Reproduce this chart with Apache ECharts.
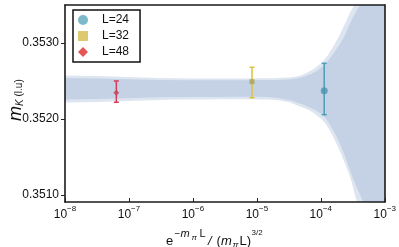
<!DOCTYPE html>
<html><head><meta charset="utf-8">
<script src="https://cdn.jsdelivr.net/npm/echarts@6/dist/echarts.min.js"></script>
<style>html,body{margin:0;padding:0;background:#fff}#c{width:399px;height:247px}</style>
</head><body><div id="c"></div>
<script>
// ---- data ----
const seriesNames = ['L=24', 'L=32', 'L=48'];
const pointX = [1.13e-4, 8.4e-6, 6.35e-8];
const pointY = [0.352373, 0.352492, 0.352347];
const errLow = [0.352058, 0.352281, 0.352221];
const errHigh = [0.352733, 0.352681, 0.352501];

const bandX      = [1e-9, 1e-6, 1.5e-5, 3.1e-5, 4.5e-5, 6.4e-5, 8.5e-5, 1.13e-4, 1.45e-4, 1.86e-4, 2.3e-4, 2.9e-4, 3.6e-4, 4.5e-4, 6e-4, 1e-3, 2e-3];
const innerUpper = [0.35251, 0.35251, 0.352514, 0.35252, 0.35254, 0.35258, 0.35263, 0.35271, 0.35282, 0.35295, 0.35308, 0.35327, 0.35342, 0.35356, 0.3539, 0.3548, 0.3570];
const innerLower = [0.35229, 0.35229, 0.35229, 0.35225, 0.35221, 0.35216, 0.35211, 0.35203, 0.35190, 0.35173, 0.35155, 0.35131, 0.35111, 0.35093, 0.3506, 0.3497, 0.3470];
const outerUpper = [0.352534, 0.352534, 0.352536, 0.352547, 0.352567, 0.35262, 0.352685, 0.352777, 0.352908, 0.353066, 0.353224, 0.353408, 0.35355, 0.3537, 0.3541, 0.3550, 0.3575];
const outerLower = [0.352258, 0.352258, 0.352256, 0.352224, 0.352171, 0.352119, 0.352054, 0.351962, 0.351817, 0.351633, 0.351449, 0.351226, 0.350936, 0.35070, 0.3503, 0.3494, 0.3465];

const xTickExps = [-8, -7, -6, -5, -4, -3];
const yTicks = [0.3510, 0.3520, 0.3530];

// ---- styles ----
const markerColors = ['#4a93b0', '#a9a35a', '#c4405a'];
const legendColors = ['#5ba8bb', '#d6bb4a', '#e02b2b'];
const barColors = ['#4d9db7', '#dcc23e', '#d43c5c'];
const symbols = ['circle', 'rect', 'diamond'];
const symbolSizes = [7, 5, 6];
const FONT = 'Liberation Sans';

const chart = echarts.init(document.getElementById('c'));

function bandSeries(upper, lower, color, z) {
  return {
    type: 'custom', silent: true, z: z, clip: true,
    data: bandX.map((x, i) => [x, lower[i], upper[i]]),
    encode: { x: 0, y: [1, 2] },
    renderItem: function (params, api) {
      if (params.dataIndex !== 0) return null;
      const pts = [];
      for (let i = 0; i < bandX.length; i++) pts.push(api.coord([bandX[i], upper[i]]));
      for (let i = bandX.length - 1; i >= 0; i--) pts.push(api.coord([bandX[i], lower[i]]));
      const cs = params.coordSys;
      return {
        type: 'polygon',
        shape: { points: pts, smooth: 0.35 },
        style: { fill: color, stroke: null },
        clipPath: { type: 'rect', shape: { x: cs.x, y: cs.y, width: cs.width, height: cs.height } }
      };
    }
  };
}

const errSeries = {
  type: 'custom', silent: true, z: 5,
  data: pointX.map((x, i) => [x, pointY[i], errLow[i], errHigh[i], i]),
  encode: { x: 0, y: 1 },
  renderItem: function (params, api) {
    const x = api.value(0), lo = api.value(2), hi = api.value(3), k = api.value(4);
    const t = api.coord([x, hi]), b = api.coord([x, lo]);
    const w = 2.5, c = barColors[k];
    const st = { stroke: c, lineWidth: 1.5 };
    return {
      type: 'group', children: [
        { type: 'line', shape: { x1: t[0], y1: t[1], x2: b[0], y2: b[1] }, style: st },
        { type: 'line', shape: { x1: t[0] - w, y1: t[1], x2: t[0] + w, y2: t[1] }, style: st },
        { type: 'line', shape: { x1: b[0] - w, y1: b[1], x2: b[0] + w, y2: b[1] }, style: st }
      ]
    };
  }
};

const scatterSeries = seriesNames.map((n, i) => ({
  name: n, type: 'scatter', z: 6,
  symbol: symbols[i], symbolSize: symbolSizes[i],
  itemStyle: { color: markerColors[i] },
  data: [[pointX[i], pointY[i]]]
}));

const axisLineStyle = { color: '#1a1a1a', width: 1.6 };

const option = {
  animation: false,
  grid: { left: 65, right: 12, top: 5, bottom: 45 },
  xAxis: [{
    type: 'log', logBase: 10, min: 1e-8, max: 1e-3, position: 'bottom', z: 10,
    axisLine: { lineStyle: axisLineStyle },
    axisTick: { inside: true, length: 4, lineStyle: { color: '#222', width: 1 } },
    minorTick: { show: false }, splitLine: { show: false },
    axisLabel: {
      margin: 3,
      formatter: function (v) {
        const e = Math.round(Math.log10(v));
        return '{b|10}{s|' + (e < 0 ? '\u2212' + (-e) : e) + '}';
      },
      rich: {
        b: { fontSize: 12, fontFamily: FONT, color: '#111', lineHeight: 16, verticalAlign: 'bottom' },
        s: { fontSize: 8, fontFamily: FONT, color: '#111', lineHeight: 8, verticalAlign: 'top' }
      }
    }
  }, {
    type: 'log', logBase: 10, min: 1e-8, max: 1e-3, position: 'top', z: 10,
    axisLine: { lineStyle: axisLineStyle }, axisTick: { show: false }, axisLabel: { show: false },
    splitLine: { show: false }
  }],
  yAxis: [{
    type: 'value', min: 0.35091, max: 0.3535, position: 'left', z: 10,
    axisLine: { show: true, lineStyle: axisLineStyle },
    axisTick: { show: true, length: 4, customValues: yTicks, lineStyle: { color: '#222', width: 1 } },
    axisLabel: { customValues: yTicks, margin: 6, fontSize: 12, fontFamily: FONT, color: '#111',
      formatter: v => v.toFixed(4) },
    splitLine: { show: false }
  }, {
    type: 'value', min: 0.35091, max: 0.3535, position: 'right', z: 10,
    axisLine: { show: true, lineStyle: axisLineStyle }, axisTick: { show: false }, axisLabel: { show: false },
    splitLine: { show: false }
  }],
  legend: {
    orient: 'vertical', left: 73, top: 10, z: 20,
    itemWidth: 10, itemHeight: 10, itemGap: 4,
    padding: [4, 11, 4, 5],
    borderColor: '#111', borderWidth: 1.5, backgroundColor: '#fff',
    textStyle: { fontSize: 12, fontFamily: FONT, color: '#111', padding: [0, 0, 0, 9] },
    data: seriesNames.map((n, i) => ({ name: n, icon: symbols[i], itemStyle: { color: legendColors[i] } }))
  },
  graphic: [
    { type: 'group', x: 0, y: 0, silent: true, children: [
      { type: 'text', style: { text: 'e', x: 166, y: 241.5, font: '13px "' + FONT + '"', fill: '#111', verticalAlign: 'middle' } },
      { type: 'text', style: { text: '\u2212', x: 174.5, y: 234, font: '10px "' + FONT + '"', fill: '#111', verticalAlign: 'middle' } },
      { type: 'text', style: { text: 'm', x: 180.5, y: 234, font: 'italic 11px "' + FONT + '"', fill: '#111', verticalAlign: 'middle' } },
      { type: 'text', style: { text: '\u03c0', x: 191.5, y: 237.5, font: 'italic 8px "' + FONT + '"', fill: '#111', verticalAlign: 'middle' } },
      { type: 'text', style: { text: 'L', x: 199.5, y: 234, font: '11px "' + FONT + '"', fill: '#111', verticalAlign: 'middle' } },
      { type: 'text', style: { text: '/', x: 208, y: 241.5, font: 'italic 13px "' + FONT + '"', fill: '#111', verticalAlign: 'middle' } },
      { type: 'text', style: { text: '(', x: 216.5, y: 241.5, font: '13px "' + FONT + '"', fill: '#111', verticalAlign: 'middle' } },
      { type: 'text', style: { text: 'm', x: 221, y: 241.5, font: 'italic 13px "' + FONT + '"', fill: '#111', verticalAlign: 'middle' } },
      { type: 'text', style: { text: '\u03c0', x: 232.5, y: 245, font: 'italic 9px "' + FONT + '"', fill: '#111', verticalAlign: 'middle' } },
      { type: 'text', style: { text: 'L)', x: 239.5, y: 241.5, font: '13px "' + FONT + '"', fill: '#111', verticalAlign: 'middle' } },
      { type: 'text', style: { text: '3/2', x: 251.5, y: 233, font: '8px "' + FONT + '"', fill: '#111', verticalAlign: 'middle' } }
    ]},
    { type: 'group', x: 0, y: 121, rotation: Math.PI / 2, silent: true, children: [
      { type: 'text', style: { text: 'm', x: 0, y: 15.5, font: 'italic 18px "' + FONT + '"', fill: '#111', verticalAlign: 'middle' } },
      { type: 'text', style: { text: 'K', x: 15, y: 20.5, font: 'italic 10px "' + FONT + '"', fill: '#111', verticalAlign: 'middle' } },
      { type: 'text', style: { text: '(l.u)', x: 24.5, y: 19.5, font: '10px "' + FONT + '"', fill: '#111', verticalAlign: 'middle' } }
    ]}
  ],
  series: [
    bandSeries(outerUpper, outerLower, '#dde5f1', 1),
    bandSeries(innerUpper, innerLower, '#c5d2e6', 2),
    errSeries
  ].concat(scatterSeries)
};
chart.setOption(option);
</script>
</body></html>
